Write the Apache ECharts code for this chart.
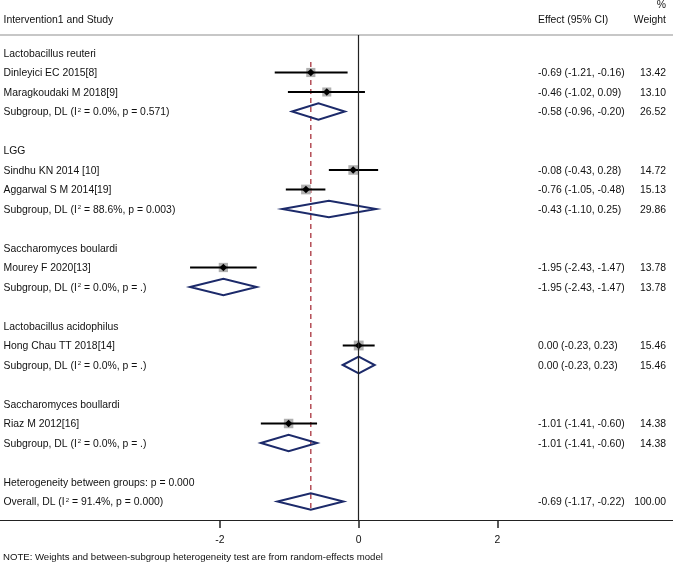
<!DOCTYPE html>
<html><head><meta charset="utf-8">
<script src="https://cdn.jsdelivr.net/npm/echarts@6/dist/echarts.min.js"></script>
<style>html,body{margin:0;padding:0;background:#fff}#c{width:673px;height:563px}</style>
</head><body><div id="c"></div>
<script>
// ---------- data ----------
const groupNames = ['Lactobacillus reuteri', 'LGG', 'Saccharomyces boulardi', 'Lactobacillus acidophilus', 'Saccharomyces boullardi'];
const studyNames = ['Dinleyici EC 2015[8]', 'Maragkoudaki M 2018[9]', 'Sindhu KN 2014 [10]', 'Aggarwal S M 2014[19]', 'Mourey F 2020[13]', 'Hong Chau TT 2018[14]', 'Riaz M 2012[16]'];
const studyGroup = [0, 0, 1, 1, 2, 3, 4];
const studyEst = [-0.69, -0.46, -0.08, -0.76, -1.95, 0.00, -1.01];
const studyLo = [-1.21, -1.02, -0.43, -1.05, -2.43, -0.23, -1.41];
const studyHi = [-0.16, 0.09, 0.28, -0.48, -1.47, 0.23, -0.60];
const studyWeight = [13.42, 13.10, 14.72, 15.13, 13.78, 15.46, 14.38];
const subI2 = ['0.0%', '88.6%', '0.0%', '0.0%', '0.0%'];
const subP = ['0.571', '0.003', '.', '.', '.'];
const subEst = [-0.58, -0.43, -1.95, 0.00, -1.01];
const subLo = [-0.96, -1.10, -2.43, -0.23, -1.41];
const subHi = [-0.20, 0.25, -1.47, 0.23, -0.60];
const subWeight = [26.52, 29.86, 13.78, 15.46, 14.38];
const hetP = '0.000';
const overallI2 = '91.4%';
const overallP = '0.000';
const overallEst = -0.69;
const overallLo = -1.17;
const overallHi = -0.22;
const overallWeight = 100.00;
const xTicks = [-2, 0, 2];

// ---------- build rows ----------
const rows = [];
let r = 0;
groupNames.forEach((g, gi) => {
  rows.push({kind: 'group', row: r++, label: g});
  studyNames.forEach((s, si) => {
    if (studyGroup[si] === gi) rows.push({kind: 'study', row: r++, label: s, est: studyEst[si], lo: studyLo[si], hi: studyHi[si], w: studyWeight[si]});
  });
  rows.push({kind: 'sub', row: r++, label: 'Subgroup, DL (I{s|2} = ' + subI2[gi] + ', p = ' + subP[gi] + ')', est: subEst[gi], lo: subLo[gi], hi: subHi[gi], w: subWeight[gi]});
  r++; // blank row
});
rows.push({kind: 'het', row: r++, label: 'Heterogeneity between groups: p = ' + hetP});
const overallRow = r;
rows.push({kind: 'overall', row: r++, label: 'Overall, DL (I{s|2} = ' + overallI2 + ', p = ' + overallP + ')', est: overallEst, lo: overallLo, hi: overallHi, w: overallWeight});

const studies = rows.filter(d => d.kind === 'study');
const diamonds = rows.filter(d => d.kind === 'sub' || d.kind === 'overall');
const firstStudyRow = studies[0].row;

// ---------- layout ----------
const FONT = '"Liberation Sans", Arial, sans-serif';
const FS = 10.4;
const TXT = '#111';
const xMin = -5.1686, xMax = 4.5288;
const yMin = -0.923, yMax = 23.949;
const fmt = v => v.toFixed(2);
const effText = d => fmt(d.est) + ' (' + fmt(d.lo) + ', ' + fmt(d.hi) + ')';

const chart = echarts.init(document.getElementById('c'), null, {renderer: 'canvas'});
chart.setOption({
  animation: false,
  backgroundColor: '#fff',
  grid: {left: 0, right: 0, top: 35, bottom: 43},
  xAxis: [{
    type: 'value', min: xMin, max: xMax, position: 'bottom',
    axisLine: {show: true, onZero: false, lineStyle: {color: '#222', width: 1.2}},
    axisTick: {show: true, customValues: xTicks, length: 8, lineStyle: {color: '#222', width: 1.5}},
    axisLabel: {customValues: xTicks, margin: 15, fontSize: FS, color: TXT, fontFamily: FONT},
    splitLine: {show: false}
  }, {
    type: 'value', min: xMin, max: xMax, position: 'top',
    axisLine: {show: true, onZero: false, lineStyle: {color: '#b4b4b4', width: 1.5}},
    axisTick: {show: false}, axisLabel: {show: false}, splitLine: {show: false}
  }],
  yAxis: {type: 'value', inverse: true, min: yMin, max: yMax, show: false},
  graphic: [
    {type: 'text', left: 3.5, top: 15, style: {text: 'Intervention1 and Study', font: FS + 'px ' + FONT, fill: TXT}},
    {type: 'text', left: 538, top: 15, style: {text: 'Effect (95% CI)', font: FS + 'px ' + FONT, fill: TXT}},
    {type: 'text', right: 7, top: 0, style: {text: '%', font: FS + 'px ' + FONT, fill: TXT, align: 'right'}},
    {type: 'text', right: 7, top: 15, style: {text: 'Weight', font: FS + 'px ' + FONT, fill: TXT, align: 'right'}},
    {type: 'text', left: 3, top: 552, style: {text: 'NOTE: Weights and between-subgroup heterogeneity test are from random-effects model', font: '9.6px ' + FONT, fill: TXT}}
  ],
  series: [
    { // vertical null line
      type: 'line', data: [], silent: true,
      markLine: {symbol: 'none', silent: true, label: {show: false}, data: [{xAxis: 0}], lineStyle: {color: '#222', type: 'solid', width: 1.2}}
    },
    { // overall dashed line
      type: 'line', silent: true, symbol: 'none',
      data: [[overallEst, firstStudyRow - 0.54], [overallEst, overallRow + 0.44]],
      lineStyle: {color: '#a8323c', width: 1.3, type: [5, 4]}, z: 2
    },
    { // studies
      type: 'custom', silent: true, z: 3,
      data: studies.map(d => [d.est, d.row]),
      renderItem: (params, api) => {
        const d = studies[params.dataIndex];
        const pe = api.coord([d.est, d.row]);
        const pl = api.coord([d.lo, d.row]);
        const ph = api.coord([d.hi, d.row]);
        const s = 2.5 * Math.sqrt(d.w);
        const k = 3.8;
        return {type: 'group', children: [
          {type: 'rect', shape: {x: pe[0] - s / 2, y: pe[1] - s / 2, width: s, height: s}, style: {fill: '#b0b0b0'}},
          {type: 'line', shape: {x1: pl[0], y1: pl[1], x2: ph[0], y2: ph[1]}, style: {stroke: '#000', lineWidth: 2}},
          {type: 'polygon', shape: {points: [[pe[0], pe[1] - k], [pe[0] + k, pe[1]], [pe[0], pe[1] + k], [pe[0] - k, pe[1]]]}, style: {fill: '#000'}}
        ]};
      }
    },
    { // diamonds
      type: 'custom', silent: true, z: 4,
      data: diamonds.map(d => [d.est, d.row]),
      renderItem: (params, api) => {
        const d = diamonds[params.dataIndex];
        const pe = api.coord([d.est, d.row]);
        const pl = api.coord([d.lo, d.row]);
        const ph = api.coord([d.hi, d.row]);
        const h = 8.3;
        return {type: 'polygon', shape: {points: [[pl[0], pl[1]], [pe[0], pe[1] - h], [ph[0], ph[1]], [pe[0], pe[1] + h]]},
          style: {fill: 'none', stroke: '#1c2a6a', lineWidth: 2, lineJoin: 'miter'}};
      }
    },
    { // text columns
      type: 'custom', silent: true, z: 5, clip: false,
      data: rows.map(d => [0, d.row]),
      renderItem: (params, api) => {
        const d = rows[params.dataIndex];
        const y = api.coord([0, d.row])[1] + 0.8;
        const ch = [{type: 'text', x: 3.5, y: y, style: {text: d.label, font: FS + 'px ' + FONT, fill: TXT, verticalAlign: 'middle',
          rich: {s: {fontSize: 6, fontFamily: FONT, fill: TXT, verticalAlign: 'top', padding: [0, 0, 0, 1]}}}}];
        if (d.est !== undefined) {
          ch.push({type: 'text', x: 538, y: y, style: {text: effText(d), font: FS + 'px ' + FONT, fill: TXT, verticalAlign: 'middle'}});
          ch.push({type: 'text', x: 666, y: y, style: {text: fmt(d.w), font: FS + 'px ' + FONT, fill: TXT, verticalAlign: 'middle', align: 'right'}});
        }
        return {type: 'group', children: ch};
      }
    }
  ]
});
</script>
</body></html>
